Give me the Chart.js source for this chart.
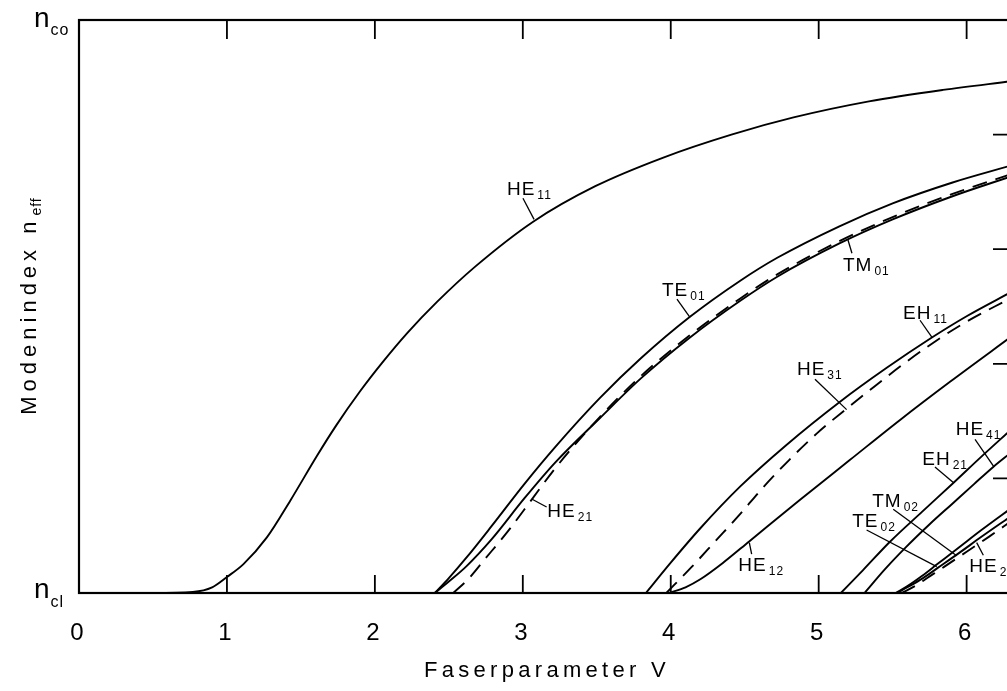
<!DOCTYPE html>
<html>
<head>
<meta charset="utf-8">
<title>Modenindex</title>
<script src="https://cdn.jsdelivr.net/npm/chart.js@4.4.1/dist/chart.umd.min.js"></script>
<style>
  html, body { margin: 0; padding: 0; background: #fff; overflow: hidden; }
  #wrap { width: 1030px; height: 691px; }
</style>
</head>
<body>
<div id="wrap"><canvas id="modes" width="1030" height="691"></canvas></div>
<script>
// Faserparameter V on x, normalised mode index on y (0 = n_cl, 1 = n_co)
const xTicks = [0, 1, 2, 3, 4, 5, 6];
const yTicks = [0, 0.2, 0.4, 0.6, 0.8, 1];

const vHE11 = [0, 0.5, 0.77, 0.9, 1.0, 1.11, 1.27, 1.43, 1.61, 1.74, 1.9, 2.05, 2.22, 2.42, 2.68, 3.07, 3.49, 3.95, 4.41, 4.83, 5.34, 5.84, 6.3];
const bHE11 = [0, 0, 0.002, 0.01, 0.028, 0.05, 0.097, 0.162, 0.24, 0.293, 0.352, 0.402, 0.454, 0.508, 0.57, 0.648, 0.71, 0.76, 0.8, 0.83, 0.858, 0.878, 0.893];

const vTE01 = [2.405, 2.5, 2.62, 2.79, 3.01, 3.22, 3.52, 3.8, 4.13, 4.47, 4.72, 5.14, 5.5, 5.9, 6.3];
const bTE01 = [0, 0.026, 0.062, 0.117, 0.19, 0.255, 0.34, 0.41, 0.482, 0.545, 0.585, 0.64, 0.68, 0.716, 0.746];

const vTM01 = [2.405, 2.5, 2.62, 2.79, 3.01, 3.22, 3.52, 3.8, 4.13, 4.47, 4.72, 5.14, 5.5, 5.9, 6.3];
const bTM01 = [0, 0.02, 0.047, 0.094, 0.165, 0.228, 0.305, 0.375, 0.446, 0.51, 0.552, 0.61, 0.652, 0.692, 0.727];

const vHE21 = [2.53, 2.63, 2.74, 2.9, 3.06, 3.22, 3.52, 3.8, 4.13, 4.47, 4.72, 5.14, 5.5, 5.9, 6.3];
const bHE21 = [0, 0.024, 0.058, 0.108, 0.163, 0.218, 0.307, 0.379, 0.45, 0.514, 0.556, 0.614, 0.656, 0.696, 0.731];

const vEH11 = [3.832, 4.0, 4.2, 4.47, 4.78, 5.14, 5.46, 5.76, 6.0, 6.3];
const bEH11 = [0, 0.053, 0.113, 0.186, 0.258, 0.333, 0.393, 0.445, 0.483, 0.525];

const vHE31 = [3.97, 4.14, 4.3, 4.47, 4.62, 4.8, 4.99, 5.19, 5.39, 5.57, 5.77, 5.97, 6.3];
const bHE31 = [0, 0.045, 0.09, 0.138, 0.183, 0.232, 0.279, 0.322, 0.363, 0.399, 0.436, 0.469, 0.515];

const vHE12 = [3.99, 4.1, 4.2, 4.35, 4.53, 4.87, 5.21, 5.55, 5.89, 6.3];
const bHE12 = [0, 0.01, 0.024, 0.052, 0.09, 0.162, 0.232, 0.302, 0.369, 0.447];

const vEH21 = [5.15, 5.3, 5.48, 5.7, 5.91, 6.1, 6.3];
const bEH21 = [0, 0.04, 0.089, 0.142, 0.192, 0.238, 0.285];

const vHE41 = [5.31, 5.45, 5.59, 5.75, 5.9, 6.05, 6.18, 6.3];
const bHE41 = [0, 0.042, 0.08, 0.12, 0.155, 0.19, 0.22, 0.245];

const vTE02 = [5.52, 5.6, 5.7, 5.8, 5.95, 6.1, 6.3];
const bTE02 = [0, 0.012, 0.03, 0.05, 0.08, 0.11, 0.148];

const vTM02 = [5.53, 5.6, 5.7, 5.8, 5.95, 6.1, 6.3];
const bTM02 = [0, 0.01, 0.025, 0.043, 0.07, 0.098, 0.134];

const vHE22 = [5.56, 5.65, 5.75, 5.85, 6.0, 6.15, 6.3];
const bHE22 = [0, 0.012, 0.029, 0.046, 0.072, 0.098, 0.125];

const modes = [
  { name: "HE11", v: vHE11, b: bHE11 },
  { name: "TE01", v: vTE01, b: bTE01 },
  { name: "TM01", v: vTM01, b: bTM01 },
  { name: "HE21", v: vHE21, b: bHE21, dashed: true },
  { name: "EH11", v: vEH11, b: bEH11 },
  { name: "HE31", v: vHE31, b: bHE31, dashed: true },
  { name: "HE12", v: vHE12, b: bHE12 },
  { name: "EH21", v: vEH21, b: bEH21 },
  { name: "HE41", v: vHE41, b: bHE41 },
  { name: "TE02", v: vTE02, b: bTE02 },
  { name: "TM02", v: vTM02, b: bTM02 },
  { name: "HE22", v: vHE22, b: bHE22, dashed: true }
];

// mode labels: text anchor and leader line, all in (V, b)
const modeLabels = [
  { main: "HE", sub: "11", at: [2.893, 0.695], from: [3.001, 0.689], to: [3.076, 0.652] },
  { main: "TE", sub: "01", at: [3.941, 0.518], from: [4.042, 0.513], to: [4.130, 0.481] },
  { main: "TM", sub: "01", at: [5.164, 0.562], from: [5.225, 0.593], to: [5.198, 0.616] },
  { main: "EH", sub: "11", at: [5.570, 0.479], from: [5.685, 0.476], to: [5.766, 0.446] },
  { main: "HE", sub: "31", at: [4.853, 0.380], from: [4.975, 0.373], to: [5.189, 0.320] },
  { main: "HE", sub: "12", at: [4.457, 0.038], from: [4.547, 0.068], to: [4.531, 0.088] },
  { main: "HE", sub: "21", at: [3.166, 0.133], from: [3.161, 0.150], to: [3.060, 0.164] },
  { main: "HE", sub: "41", at: [5.926, 0.276], from: [6.057, 0.268], to: [6.185, 0.220] },
  { main: "EH", sub: "21", at: [5.700, 0.223], from: [5.786, 0.220], to: [5.910, 0.193] },
  { main: "TM", sub: "02", at: [5.362, 0.150], from: [5.504, 0.146], to: [5.933, 0.065] },
  { main: "TE", sub: "02", at: [5.227, 0.115], from: [5.324, 0.110], to: [5.798, 0.046] },
  { main: "HE", sub: "22", at: [6.018, 0.036], from: [6.113, 0.066], to: [6.068, 0.088] }
];

const FONT = "'Liberation Sans', Arial, sans-serif";

// text with a lowered subscript; x,y is the left baseline
function textWithSub(ctx, main, sub, x, y, size, subSize, drop, spacing, gap) {
  ctx.font = `${size}px ${FONT}`;
  ctx.letterSpacing = spacing + "px";
  ctx.fillText(main, x, y);
  const w = ctx.measureText(main).width;
  ctx.font = `${subSize}px ${FONT}`;
  ctx.letterSpacing = "1px";
  ctx.fillText(sub, x + w + gap, y + drop);
  ctx.letterSpacing = "0px";
}

const framePlugin = {
  id: "frame",
  afterDatasetsDraw(chart) {
    const { ctx, chartArea: a, scales: { x, y } } = chart;
    ctx.save();
    ctx.strokeStyle = "#000";
    ctx.fillStyle = "#000";

    // box
    ctx.lineWidth = 2.2;
    ctx.strokeRect(a.left, a.top, a.right - a.left, a.bottom - a.top);

    // inward ticks: top, bottom, right
    ctx.lineWidth = 1.8;
    ctx.beginPath();
    xTicks.slice(1).forEach(v => {
      const px = x.getPixelForValue(v);
      ctx.moveTo(px, a.bottom);
      ctx.lineTo(px, a.bottom - 18);
      ctx.moveTo(px, a.top);
      ctx.lineTo(px, a.top + 19);
    });
    yTicks.slice(1, -1).forEach(v => {
      const py = y.getPixelForValue(v);
      ctx.moveTo(a.right, py);
      ctx.lineTo(a.right - 18, py);
    });
    ctx.stroke();

    // x tick labels
    ctx.textAlign = "center";
    ctx.textBaseline = "alphabetic";
    ctx.font = `24px ${FONT}`;
    xTicks.forEach(v => {
      ctx.fillText(String(v), x.getPixelForValue(v) - 2, a.bottom + 47);
    });

    // y end labels
    ctx.textAlign = "left";
    textWithSub(ctx, "n", "cl", 34, y.getPixelForValue(0) + 5, 28, 16, 9, 0, 1);
    textWithSub(ctx, "n", "co", 34, y.getPixelForValue(1) + 7, 28, 16, 8, 0, 1);

    // axis titles
    ctx.textAlign = "center";
    ctx.font = `22px ${FONT}`;
    ctx.letterSpacing = "4.3px";
    ctx.fillText("Faserparameter V", (a.left + a.right) / 2 + 2, 677);
    ctx.letterSpacing = "0px";

    ctx.save();
    ctx.translate(36, (a.top + a.bottom) / 2);
    ctx.rotate(-Math.PI / 2);
    ctx.textAlign = "left";
    ctx.font = `22px ${FONT}`;
    ctx.letterSpacing = "5px";
    const w1 = ctx.measureText("Modenindex n").width;
    ctx.font = `14px ${FONT}`;
    ctx.letterSpacing = "1px";
    const w2 = ctx.measureText("eff").width;
    textWithSub(ctx, "Modenindex n", "eff", -(w1 + w2) / 2, 0, 22, 14, 5, 5, 1);
    ctx.restore();

    // mode labels and leaders
    ctx.lineWidth = 1.3;
    ctx.textAlign = "left";
    modeLabels.forEach(l => {
      ctx.beginPath();
      ctx.moveTo(x.getPixelForValue(l.from[0]), y.getPixelForValue(l.from[1]));
      ctx.lineTo(x.getPixelForValue(l.to[0]), y.getPixelForValue(l.to[1]));
      ctx.stroke();
      textWithSub(ctx, l.main, l.sub, x.getPixelForValue(l.at[0]), y.getPixelForValue(l.at[1]), 19, 12, 4, 1, 2);
    });
    ctx.restore();
  }
};

new Chart(document.getElementById("modes"), {
  type: "line",
  data: {
    datasets: modes.map(m => ({
      label: m.name,
      data: m.v.map((v, i) => ({ x: v, y: m.b[i] })),
      borderColor: "#000",
      borderWidth: 1.9,
      borderDash: m.dashed ? [15, 9] : [],
      pointRadius: 0,
      fill: false,
      cubicInterpolationMode: "monotone"
    }))
  },
  options: {
    responsive: false,
    animation: false,
    devicePixelRatio: 1,
    events: [],
    layout: { padding: { left: 79, top: 20, right: 19, bottom: 98 } },
    plugins: { legend: { display: false }, tooltip: { enabled: false } },
    scales: {
      x: { type: "linear", min: 0, max: 6.3, display: false },
      y: { type: "linear", min: 0, max: 1, display: false }
    }
  },
  plugins: [framePlugin]
});
</script>
</body>
</html>
